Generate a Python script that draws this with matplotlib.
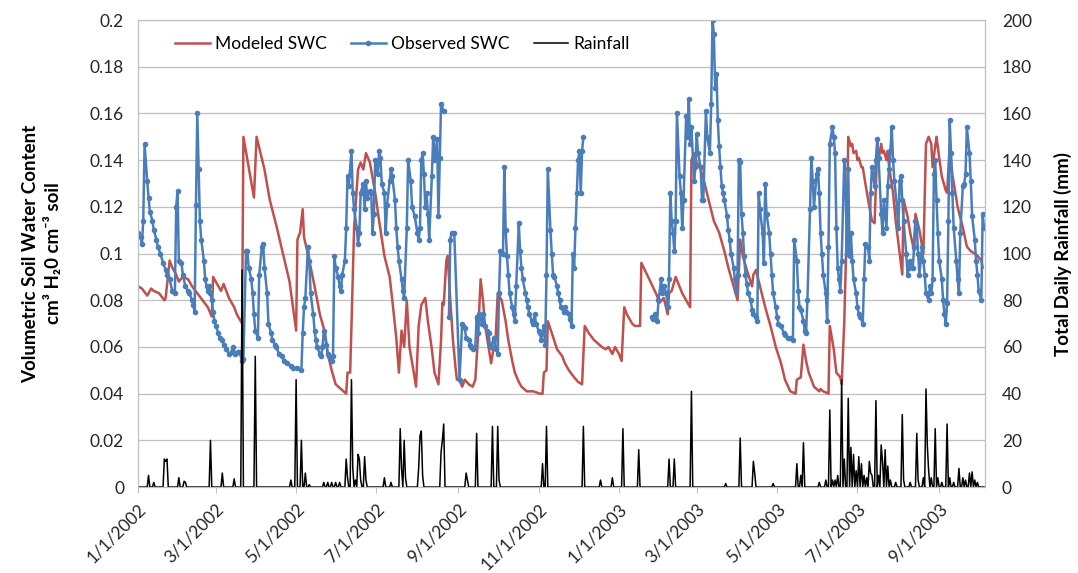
import numpy as np
import matplotlib
matplotlib.use("Agg")
import matplotlib.pyplot as plt

plt.rcParams['font.family'] = ['Lato', 'DejaVu Sans']

start = np.datetime64('2002-01-01')

# Modeled SWC (days since 1/1/2002, cm3/cm3)
mod_days = [0, 3, 7, 10, 12, 16, 20, 21, 24, 26, 29, 31, 34, 38, 41, 45, 49, 53, 56, 57,
            60, 63, 65, 69, 73, 75, 79, 80, 84, 88, 90, 96, 100, 105, 110, 115, 120, 121, 123, 125,
            126, 130, 134, 138, 142, 144, 147, 150, 154, 158, 159, 161, 162, 164, 167, 169, 171, 173, 176, 180,
            183, 187, 191, 193, 196, 198, 200, 202, 204, 206, 209, 211, 213, 215, 218, 220, 223, 225, 228, 230,
            231, 232, 234, 235, 237, 239, 241, 242, 244, 246, 248, 251, 254, 256, 258, 260, 262, 263, 266, 268,
            270, 271, 273, 276, 279, 281, 284, 286, 289, 291, 295, 300, 305, 307, 308, 310, 311, 314, 318, 322,
            324, 327, 331, 334, 337, 339, 342, 346, 350, 352, 355, 357, 360, 362, 365, 367, 369, 371, 375, 377,
            381, 382, 388, 393, 396, 399, 402, 403, 405, 408, 413, 417, 419, 420, 422, 424, 427, 430, 433, 437,
            441, 445, 448, 452, 455, 457, 459, 462, 466, 467, 469, 472, 476, 480, 484, 488, 491, 495, 499, 500,
            503, 505, 507, 509, 513, 517, 518, 520, 524, 525, 528, 530, 533, 534, 536, 538, 539, 541, 542, 543,
            545, 546, 547, 549, 550, 552, 555, 557, 559, 561, 562, 564, 565, 566, 568, 569, 570, 573, 575, 578,
            580, 581, 584, 586, 589, 590, 593, 596, 598, 600, 602, 603, 605, 606, 608, 610, 613, 614, 616, 618,
            622, 626, 629, 632, 635, 637, 640, 641]
mod_swc = [0.086, 0.085, 0.082, 0.085, 0.084, 0.083, 0.080, 0.081, 0.097, 0.094, 0.091, 0.088, 0.090, 0.089, 0.086, 0.083, 0.080, 0.077, 0.073, 0.090,
           0.087, 0.084, 0.087, 0.081, 0.077, 0.074, 0.070, 0.150, 0.137, 0.124, 0.150, 0.136, 0.123, 0.112, 0.100, 0.088, 0.067, 0.106, 0.109, 0.119,
           0.107, 0.097, 0.086, 0.074, 0.066, 0.057, 0.050, 0.044, 0.042, 0.040, 0.049, 0.049, 0.069, 0.111, 0.136, 0.139, 0.136, 0.143, 0.139, 0.126,
           0.114, 0.099, 0.090, 0.080, 0.064, 0.049, 0.067, 0.060, 0.080, 0.060, 0.050, 0.043, 0.069, 0.078, 0.081, 0.071, 0.059, 0.049, 0.044, 0.063,
           0.079, 0.078, 0.097, 0.099, 0.080, 0.063, 0.051, 0.046, 0.046, 0.043, 0.046, 0.044, 0.043, 0.046, 0.064, 0.089, 0.079, 0.071, 0.060, 0.053,
           0.060, 0.059, 0.083, 0.080, 0.071, 0.063, 0.054, 0.049, 0.045, 0.043, 0.041, 0.041, 0.040, 0.040, 0.049, 0.050, 0.071, 0.066, 0.059, 0.056,
           0.053, 0.050, 0.047, 0.045, 0.044, 0.069, 0.066, 0.063, 0.061, 0.060, 0.059, 0.060, 0.057, 0.060, 0.057, 0.054, 0.077, 0.074, 0.070, 0.069,
           0.069, 0.096, 0.089, 0.083, 0.079, 0.081, 0.074, 0.083, 0.084, 0.090, 0.083, 0.079, 0.077, 0.140, 0.143, 0.139, 0.136, 0.130, 0.123, 0.114,
           0.109, 0.101, 0.094, 0.086, 0.080, 0.106, 0.099, 0.093, 0.086, 0.091, 0.093, 0.086, 0.077, 0.069, 0.060, 0.053, 0.046, 0.041, 0.040, 0.046,
           0.047, 0.061, 0.054, 0.049, 0.043, 0.041, 0.042, 0.041, 0.040, 0.069, 0.059, 0.049, 0.047, 0.044, 0.071, 0.114, 0.150, 0.146, 0.147, 0.143,
           0.144, 0.140, 0.141, 0.137, 0.137, 0.130, 0.120, 0.114, 0.113, 0.146, 0.140, 0.147, 0.143, 0.144, 0.140, 0.144, 0.137, 0.126, 0.114, 0.100,
           0.091, 0.123, 0.116, 0.109, 0.101, 0.117, 0.110, 0.100, 0.147, 0.150, 0.147, 0.137, 0.146, 0.150, 0.141, 0.133, 0.127, 0.126, 0.146, 0.134,
           0.120, 0.111, 0.103, 0.101, 0.100, 0.099, 0.097, 0.094]

# Observed SWC (nan = missing record)
obs_days = [0, 2, 3, 4, 5, 7, 8, 9, 11, 12, 14, 15, 17, 19, 21, 22, 24, 26, 28, 29,
            30, 31, 33, 34, 36, 38, 39, 41, 42, 43, 44, 45, 46, 47, 48, 50, 51, 52, 53, 54,
            55, 56, 57, 58, 59, 61, 62, 64, 65, 67, 69, 71, 72, 74, 76, 77, 79, 80, 82, 83,
            84, 86, 87, 88, 89, 91, 92, 94, 95, 96, 98, 99, 101, 102, 104, 105, 107, 109, 111, 113,
            116, 118, 121, 124, 125, 126, 127, 129, 130, 131, 133, 134, 135, 136, 138, 139, 140, 141, 143, 144,
            145, 147, 148, 149, 150, 152, 153, 154, 155, 157, 158, 159, 160, 162, 163, 164, 166, 167, 168, 169,
            171, 172, 173, 174, 176, 177, 178, 179, 180, 182, 183, 184, 185, 187, 188, 189, 191, 192, 193, 195,
            196, 197, 198, 200, 201, 202, 204, 205, 207, 208, 210, 212, 213, 214, 215, 216, 217, 218, 219, 220,
            221, 223, 224, 225, 227, 228, 229, 230, 232, 234,
            236, 237, 238, 240, 244, 246, 247, 248, 249, 251, 252, 253, 254, 256, 257, 258, 259, 261, 262, 263,
            265, 266, 267, 268, 270, 271, 272, 273, 274, 275, 277, 278, 279, 280, 281, 282, 284, 285, 286, 287,
            289, 290, 291, 292, 294, 295, 296, 297, 299, 300, 301, 302, 304, 305, 306, 308, 309, 310, 311, 313,
            314, 315, 316, 318, 319, 320, 321, 323, 324, 325, 327, 328, 329, 330, 331, 332, 333, 334, 335, 336,
            337, 338, 360,
            390, 391, 392, 394, 395, 397, 398, 399, 401, 402, 403, 404, 405, 406, 407, 408, 409, 411, 412, 413,
            414, 416, 417, 418, 419, 420, 422, 423, 424, 425, 427, 428, 429, 431, 432, 434, 435, 436, 437, 438,
            439, 440, 441, 442, 443, 444, 445, 447, 448, 449, 450, 452, 453, 454, 455, 456, 457, 458, 459, 460,
            461, 462, 463, 465, 466, 467, 469, 470, 471, 472, 474, 475, 476, 477, 479, 480, 481, 482, 484, 485,
            486, 488, 490, 491, 493, 495, 497, 498, 500, 501, 502, 503, 505, 506, 507, 508, 510, 511, 512, 513,
            515, 516, 517, 518, 519, 520, 522, 523, 524, 525, 527, 528, 529, 530, 531, 532, 533, 534, 536, 537,
            538, 539, 540, 541, 542, 543, 545, 546, 547, 548, 550, 551, 552, 554, 555, 556, 557, 559, 560, 561,
            562, 564, 565, 566, 568, 569, 570, 571, 572, 573, 574, 576, 577, 578, 579, 580, 581, 583, 584, 585,
            586, 588, 589, 590, 591, 592, 593, 595, 596, 597, 598, 600, 601, 602, 603, 604, 605, 606, 607, 608,
            610, 611, 612, 613, 614, 615, 616, 617, 618, 619, 621, 622, 623, 624, 626, 627, 628, 629, 631, 632,
            633, 635, 636, 637, 638, 640, 641, 642]
obs_swc = [0.109, 0.107, 0.104, 0.114, 0.147, 0.131, 0.124, 0.118, 0.114, 0.110, 0.106, 0.103, 0.100, 0.096, 0.093, 0.091, 0.089, 0.084, 0.083, 0.120,
           0.127, 0.097, 0.096, 0.091, 0.086, 0.084, 0.083, 0.080, 0.078, 0.075, 0.121, 0.160, 0.136, 0.114, 0.106, 0.097, 0.089, 0.086, 0.084, 0.086,
           0.083, 0.080, 0.075, 0.071, 0.069, 0.066, 0.064, 0.063, 0.061, 0.059, 0.057, 0.058, 0.060, 0.057, 0.058, 0.058, 0.054, 0.055, 0.101, 0.101,
           0.094, 0.089, 0.083, 0.074, 0.067, 0.064, 0.091, 0.103, 0.104, 0.094, 0.083, 0.070, 0.066, 0.063, 0.061, 0.060, 0.057, 0.056, 0.054, 0.053,
           0.052, 0.051, 0.051, 0.050, 0.066, 0.077, 0.081, 0.103, 0.097, 0.083, 0.074, 0.067, 0.063, 0.060, 0.057, 0.056, 0.060, 0.067, 0.061, 0.057,
           0.056, 0.054, 0.056, 0.099, 0.094, 0.090, 0.086, 0.084, 0.091, 0.097, 0.111, 0.133, 0.129, 0.144, 0.126, 0.119, 0.111, 0.104, 0.109, 0.126,
           0.130, 0.119, 0.131, 0.124, 0.127, 0.126, 0.109, 0.117, 0.140, 0.134, 0.144, 0.141, 0.130, 0.126, 0.109, 0.121, 0.131, 0.136, 0.133, 0.123,
           0.111, 0.103, 0.097, 0.089, 0.084, 0.081, 0.111, 0.140, 0.131, 0.120, 0.116, 0.109, 0.106, 0.111, 0.140, 0.143, 0.134, 0.120, 0.126, 0.117,
           0.106, 0.133, 0.150, 0.140, 0.149, 0.116, 0.141, 0.164, 0.161, np.nan,
           0.073, 0.106, 0.109, 0.109, 0.046, 0.070, 0.069, 0.068, 0.064, 0.063, 0.061, 0.060, 0.059, 0.060, 0.073, 0.066, 0.074, 0.070, 0.074, 0.069,
           0.067, 0.066, 0.061, 0.060, 0.064, 0.060, 0.059, 0.057, 0.083, 0.101, 0.100, 0.137, 0.110, 0.099, 0.091, 0.083, 0.077, 0.074, 0.071, 0.086,
           0.113, 0.101, 0.094, 0.089, 0.083, 0.080, 0.077, 0.074, 0.071, 0.070, 0.074, 0.070, 0.067, 0.066, 0.063, 0.069, 0.061, 0.091, 0.136, 0.110,
           0.100, 0.091, 0.090, 0.086, 0.083, 0.080, 0.077, 0.075, 0.077, 0.075, 0.074, 0.072, 0.069, 0.100, 0.094, 0.111, 0.126, 0.140, 0.144, 0.126,
           0.144, 0.150, np.nan,
           0.073, 0.072, 0.074, 0.071, 0.080, 0.089, 0.083, 0.086, 0.083, 0.077, 0.089, 0.126, 0.114, 0.109, 0.101, 0.114, 0.160, 0.133, 0.126, 0.111,
           0.123, 0.159, 0.150, 0.166, 0.147, 0.154, 0.131, 0.137, 0.151, 0.143, 0.137, 0.123, 0.123, 0.161, 0.150, 0.143, 0.164, 0.200, 0.194, 0.171,
           0.177, 0.157, 0.146, 0.137, 0.129, 0.126, 0.123, 0.116, 0.110, 0.106, 0.100, 0.094, 0.089, 0.084, 0.091, 0.140, 0.139, 0.117, 0.109, 0.099,
           0.091, 0.087, 0.083, 0.080, 0.076, 0.074, 0.073, 0.071, 0.126, 0.119, 0.109, 0.096, 0.130, 0.117, 0.109, 0.100, 0.091, 0.083, 0.077, 0.073,
           0.070, 0.069, 0.066, 0.065, 0.064, 0.064, 0.063, 0.106, 0.097, 0.084, 0.077, 0.076, 0.071, 0.067, 0.066, 0.080, 0.119, 0.141, 0.131, 0.120,
           0.134, 0.136, 0.126, 0.109, 0.100, 0.091, 0.083, 0.071, 0.103, 0.147, 0.154, 0.150, 0.143, 0.111, 0.094, 0.089, 0.084, 0.097, 0.140, 0.129,
           0.100, 0.136, 0.099, 0.109, 0.097, 0.089, 0.083, 0.077, 0.074, 0.073, 0.070, 0.089, 0.104, 0.103, 0.097, 0.126, 0.137, 0.129, 0.140, 0.149,
           0.141, 0.117, 0.109, 0.123, 0.111, 0.129, 0.136, 0.144, 0.154, 0.140, 0.131, 0.120, 0.111, 0.131, 0.133, 0.123, 0.114, 0.100, 0.091, 0.094,
           0.097, 0.094, 0.103, 0.114, 0.111, 0.100, 0.091, 0.103, 0.097, 0.091, 0.083, 0.080, 0.086, 0.083, 0.089, 0.134, 0.140, 0.123, 0.109, 0.097,
           0.089, 0.080, 0.074, 0.070, 0.079, 0.114, 0.157, 0.143, 0.126, 0.111, 0.097, 0.089, 0.083, 0.109, 0.129, 0.130, 0.134, 0.154, 0.143, 0.131,
           0.116, 0.106, 0.097, 0.091, 0.084, 0.080, 0.117, 0.111]

# Rainfall events (day, mm); days not listed had no rain
rain_days = [8, 12, 20, 21, 22, 31, 35, 36, 55, 64, 73, 79, 89, 116, 120, 124, 127, 130, 141, 144,
             147, 150, 153, 158, 159, 162, 163, 165, 167, 168, 169, 172, 173, 187, 192, 199, 200, 202, 203, 213,
             214, 215, 216, 230, 231, 232, 249, 250, 257, 269, 273, 274, 307, 310, 338, 351, 360, 368, 380, 403,
             407, 420, 446, 457, 467, 468, 482, 500, 503, 505, 517, 522, 525, 527, 529, 531, 534, 536, 539, 541,
             543, 545, 547, 549, 551, 553, 555, 556, 557, 560, 562, 564, 565, 567, 569, 571, 575, 580, 581, 586,
             591, 592, 596, 598, 599, 600, 602, 605, 607, 610, 614, 616, 619, 623, 626, 628, 631, 633, 635, 637]
rain_mm = [5, 2, 12, 11, 12, 4, 2.5, 2, 20, 6, 3.5, 93, 56, 3, 46, 20, 6, 1, 2, 2,
           2, 2, 2, 12, 4, 46, 8, 3, 14, 12, 3, 13, 3, 4, 2, 25, 8, 20, 4, 8,
           22, 24, 5, 15, 20, 27, 6, 3, 23, 26, 26, 3, 10, 26, 26, 3, 4, 25, 16, 12,
           12, 41, 1.5, 21, 11, 6, 1.5, 10, 5, 19, 2, 3, 33, 3, 3, 5, 46, 12, 38, 17,
           14, 7, 13, 10, 5, 4, 11, 6, 5, 37, 5, 18, 11, 16, 9, 3, 2, 31, 3, 2,
           23, 3, 4, 42, 18, 7, 4, 25, 4, 2, 27, 4, 2, 8, 4, 3, 6, 6.5, 3, 2]

tick_dates = ['2002-01-01', '2002-03-01', '2002-05-01', '2002-07-01', '2002-09-01', '2002-11-01',
              '2003-01-01', '2003-03-01', '2003-05-01', '2003-07-01', '2003-09-01']
tick_labels = ['1/1/2002', '3/1/2002', '5/1/2002', '7/1/2002', '9/1/2002', '11/1/2002',
               '1/1/2003', '3/1/2003', '5/1/2003', '7/1/2003', '9/1/2003']

n_days = 643
rain_daily = np.zeros(n_days)
rain_daily[rain_days] = rain_mm

mod_x = start + np.array(mod_days).astype('timedelta64[D]')
obs_x = start + np.array(obs_days).astype('timedelta64[D]')
rain_x = start + np.arange(n_days).astype('timedelta64[D]')

fig = plt.figure(figsize=(10.78, 5.73), dpi=100)
ax = fig.add_axes([0.128, 0.150, 0.786, 0.815])
ax2 = ax.twinx()

red = '#c0504d'
blue = '#4a7ebb'
grid_c = '#bfbfbf'

l1, = ax.plot(mod_x, mod_swc, color=red, lw=1.8, label='Modeled SWC', zorder=3)
l2, = ax.plot(obs_x, obs_swc, color=blue, lw=1.8, marker='o', ms=3, label='Observed SWC', zorder=4)
l3, = ax2.plot(rain_x, rain_daily, color='black', lw=1.1, label='Rainfall')

ax.set_ylim(0, 0.2)
ax.set_yticks(np.arange(0, 0.201, 0.02))
ax.set_yticklabels(['0', '0.02', '0.04', '0.06', '0.08', '0.1', '0.12', '0.14', '0.16', '0.18', '0.2'])
ax2.set_ylim(0, 200)
ax2.set_yticks(np.arange(0, 201, 20))
ax.set_xlim(start, start + np.timedelta64(n_days, 'D'))
ax.set_xticks(np.array(tick_dates, dtype='datetime64[D]'))
ax.set_xticklabels(tick_labels, rotation=45, ha='right', rotation_mode='anchor')

ax.grid(axis='y', color=grid_c, lw=0.9)
ax.set_axisbelow(True)
for a in (ax, ax2):
    for s in a.spines.values():
        s.set_color(grid_c)
    a.tick_params(length=0, labelsize=12.5, colors='#262626')
ax.tick_params(axis='x', length=4, color=grid_c, pad=6)
ax.tick_params(axis='y', pad=10)
ax2.tick_params(axis='y', pad=12)

ax.set_ylabel('Volumetric Soil Water Content\ncm\u00b3 H\u20820 cm\u207b\u00b3 soil',
              fontsize=13.5, fontweight='bold', labelpad=20, linespacing=1.3)
ax2.set_ylabel('Total Daily Rainfall (mm)', fontsize=13.5, fontweight='bold', labelpad=16)

ax.legend(handles=[l1, l2, l3], loc='upper left', ncol=3, frameon=False, fontsize=12.5,
          bbox_to_anchor=(0.025, 1.0), handlelength=2.0, columnspacing=1.4, handletextpad=0.3)

fig.savefig('out.png', dpi=100)
